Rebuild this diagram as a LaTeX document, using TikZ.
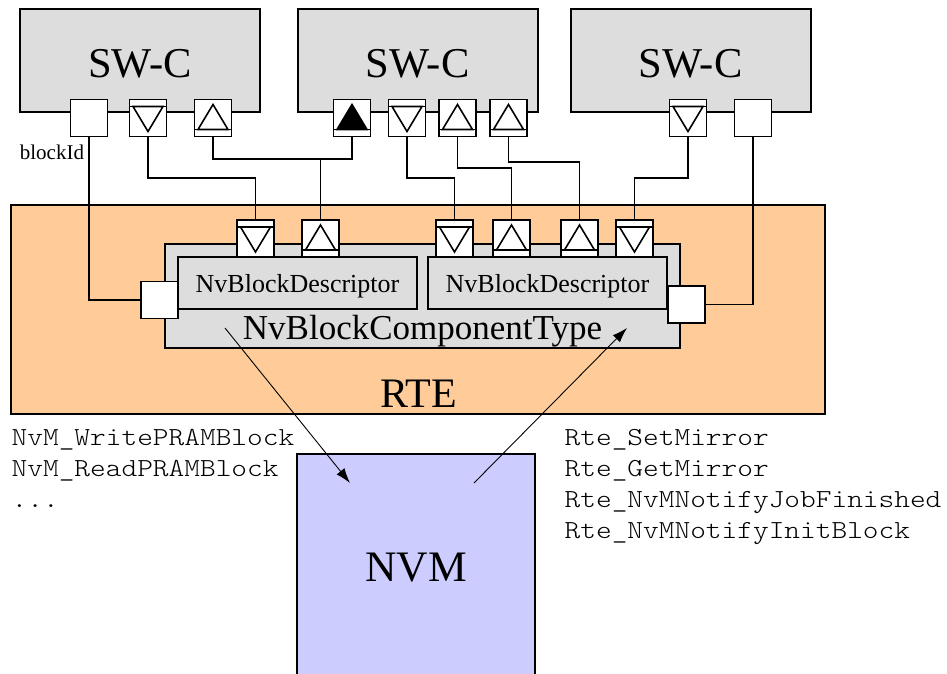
\documentclass[tikz,border=0pt]{standalone}
\usepackage{fontspec}
\setmainfont{Liberation Serif}
\setmonofont[FakeStretch=1.15]{lmmonolt10-regular.otf}
\usetikzlibrary{arrows.meta}
\definecolor{swgray}{RGB}{221,221,221}
\definecolor{rteorange}{RGB}{255,204,153}
\definecolor{nvmblue}{RGB}{204,204,255}
\tikzset{
  bigbox/.style={draw, line width=2pt, inner sep=0pt, outer sep=0pt},
  swc/.style={bigbox, fill=swgray, minimum width=240pt, minimum height=103pt,
    font=\fontsize{42.5}{48}\selectfont, text height=34pt, text depth=0pt},
  rtebox/.style={bigbox, fill=rteorange, minimum width=814pt, minimum height=209pt},
  comp/.style={bigbox, fill=swgray, minimum width=515pt, minimum height=104pt},
  desc/.style={bigbox, fill=swgray, minimum width=239pt, minimum height=52pt,
    font=\fontsize{26}{30}\selectfont, text depth=0pt},
  nvm/.style={bigbox, fill=nvmblue, minimum width=238pt, minimum height=228pt,
    font=\fontsize{43.5}{48}\selectfont},
  port/.style={draw, line width=1.8pt, fill=white, minimum size=37pt, inner sep=0pt, outer sep=0pt},
  tri/.style={line width=1.6pt, line join=miter},
  pdown/.style={port, path picture={
    \draw[tri] ([yshift=-7pt]path picture bounding box.north west) -- ([yshift=-7pt]path picture bounding box.north east);
    \draw[tri] ([xshift=3.5pt,yshift=-7pt]path picture bounding box.north west) -- ([yshift=5pt]path picture bounding box.south) -- ([xshift=-3.5pt,yshift=-7pt]path picture bounding box.north east) -- cycle;}},
  pup/.style={port, path picture={
    \draw[tri] ([yshift=7pt]path picture bounding box.south west) -- ([yshift=7pt]path picture bounding box.south east);
    \draw[tri] ([xshift=3.5pt,yshift=7pt]path picture bounding box.south west) -- ([yshift=-5pt]path picture bounding box.north) -- ([xshift=-3.5pt,yshift=7pt]path picture bounding box.south east) -- cycle;}},
  pupfill/.style={port, path picture={
    \draw[tri] ([yshift=7pt]path picture bounding box.south west) -- ([yshift=7pt]path picture bounding box.south east);
    \draw[tri, fill=black] ([xshift=3.5pt,yshift=7pt]path picture bounding box.south west) -- ([yshift=-5pt]path picture bounding box.north) -- ([xshift=-3.5pt,yshift=7pt]path picture bounding box.south east) -- cycle;}},
  wire/.style={line width=1.5pt},
  call/.style={line width=0.9pt, -{Latex[length=15pt,width=10pt]}},
  mono/.style={font=\ttfamily\fontsize{26}{31}\selectfont, anchor=base west, inner sep=0pt},
}
\begin{document}
\begin{tikzpicture}[x=1pt,y=-1pt]
\useasboundingbox (0,0) rectangle (947,673);
\clip (0,0) rectangle (947,673);

% software components
\node[swc] (swc1) at (140,60.5) {SW-C};
\node[swc] (swc2) at (417.5,60.5) {SW-C};
\node[swc] (swc3) at (690.5,60.5) {SW-C};

% RTE and block component
\node[rtebox] (rte) at (418,309.5) {};
\node[font=\fontsize{42}{48}\selectfont, anchor=base, inner sep=0pt] (rtetext) at (418.5,407) {RTE};
\node[comp] (comp) at (422.5,296) {};
\node[desc] (d1) at (297.5,283) {NvBlockDescriptor};
\node[desc] (d2) at (547.5,283) {NvBlockDescriptor};
\node[font=\fontsize{35}{40}\selectfont, anchor=base, inner sep=0pt] (comptext) at (422.5,339) {NvBlockComponentType};

% NVM
\node[nvm] (nvm) at (416,568) {NVM};

% ports on SW-Cs
\node[port] (s1a) at (89,118) {};
\node[pdown] (s1b) at (148,118) {};
\node[pup] (s1c) at (213,118) {};
\node[pupfill] (m1) at (352,118) {};
\node[pdown] (m2) at (407,118) {};
\node[pup] (m3) at (457.5,118) {};
\node[pup] (m4) at (508.5,118) {};
\node[pdown] (r1) at (688,118) {};
\node[port] (r2) at (753,118) {};

% ports on block component
\node[pdown] (c1) at (255.5,238.5) {};
\node[pup] (c2) at (320.5,238.5) {};
\node[pdown] (c3) at (454.5,238.5) {};
\node[pup] (c4) at (511.5,238.5) {};
\node[pup] (c5) at (579.5,238.5) {};
\node[pdown] (c6) at (634.5,238.5) {};
\node[port] (lsq) at (159.5,300) {};
\node[port] (rsq) at (686.5,304.5) {};

\node[font=\fontsize{21}{24}\selectfont, anchor=base west, inner sep=0pt] (blockid) at (19.7,159) {blockId};

% connectors
\draw[wire] (s1a.south) |- (lsq.west);
\draw[wire] (s1b.south) -- (s1b.south |- 0,178) -| (c1.north);
\draw[wire] (s1c.south) -- (s1c.south |- 0,159) -| (m1.south);
\draw[wire] (c2.north) -- (c2.north |- 0,159);
\draw[wire] (m2.south) -- (m2.south |- 0,178) -| (c3.north);
\draw[wire] (m3.south) -- (m3.south |- 0,168) -| (c4.north);
\draw[wire] (m4.south) -- (m4.south |- 0,162) -| (c5.north);
\draw[wire] (r1.south) -- (r1.south |- 0,178) -| (c6.north);
\draw[wire] (r2.south) |- (rsq.east);

% calls between RTE and NVM
\coordinate (a1s) at (225,328);
\coordinate (a1e) at (350,483);
\coordinate (a2s) at (474,483);
\coordinate (a2e) at (627,328);
\draw[call] (a1s) -- (a1e);
\draw[call] (a2s) -- (a2e);

% API lists
\node[mono] (l1) at (11.5,445) {NvM\_WritePRAMBlock};
\node[mono] (l2) at (11.5,476) {NvM\_ReadPRAMBlock};
\node[mono] (l3) at (11.5,507) {...};
\node[mono] (q1) at (564.5,445) {Rte\_SetMirror};
\node[mono] (q2) at (564.5,476) {Rte\_GetMirror};
\node[mono] (q3) at (564.5,507) {Rte\_NvMNotifyJobFinished};
\node[mono] (q4) at (564.5,538) {Rte\_NvMNotifyInitBlock};
\end{tikzpicture}
\end{document}
